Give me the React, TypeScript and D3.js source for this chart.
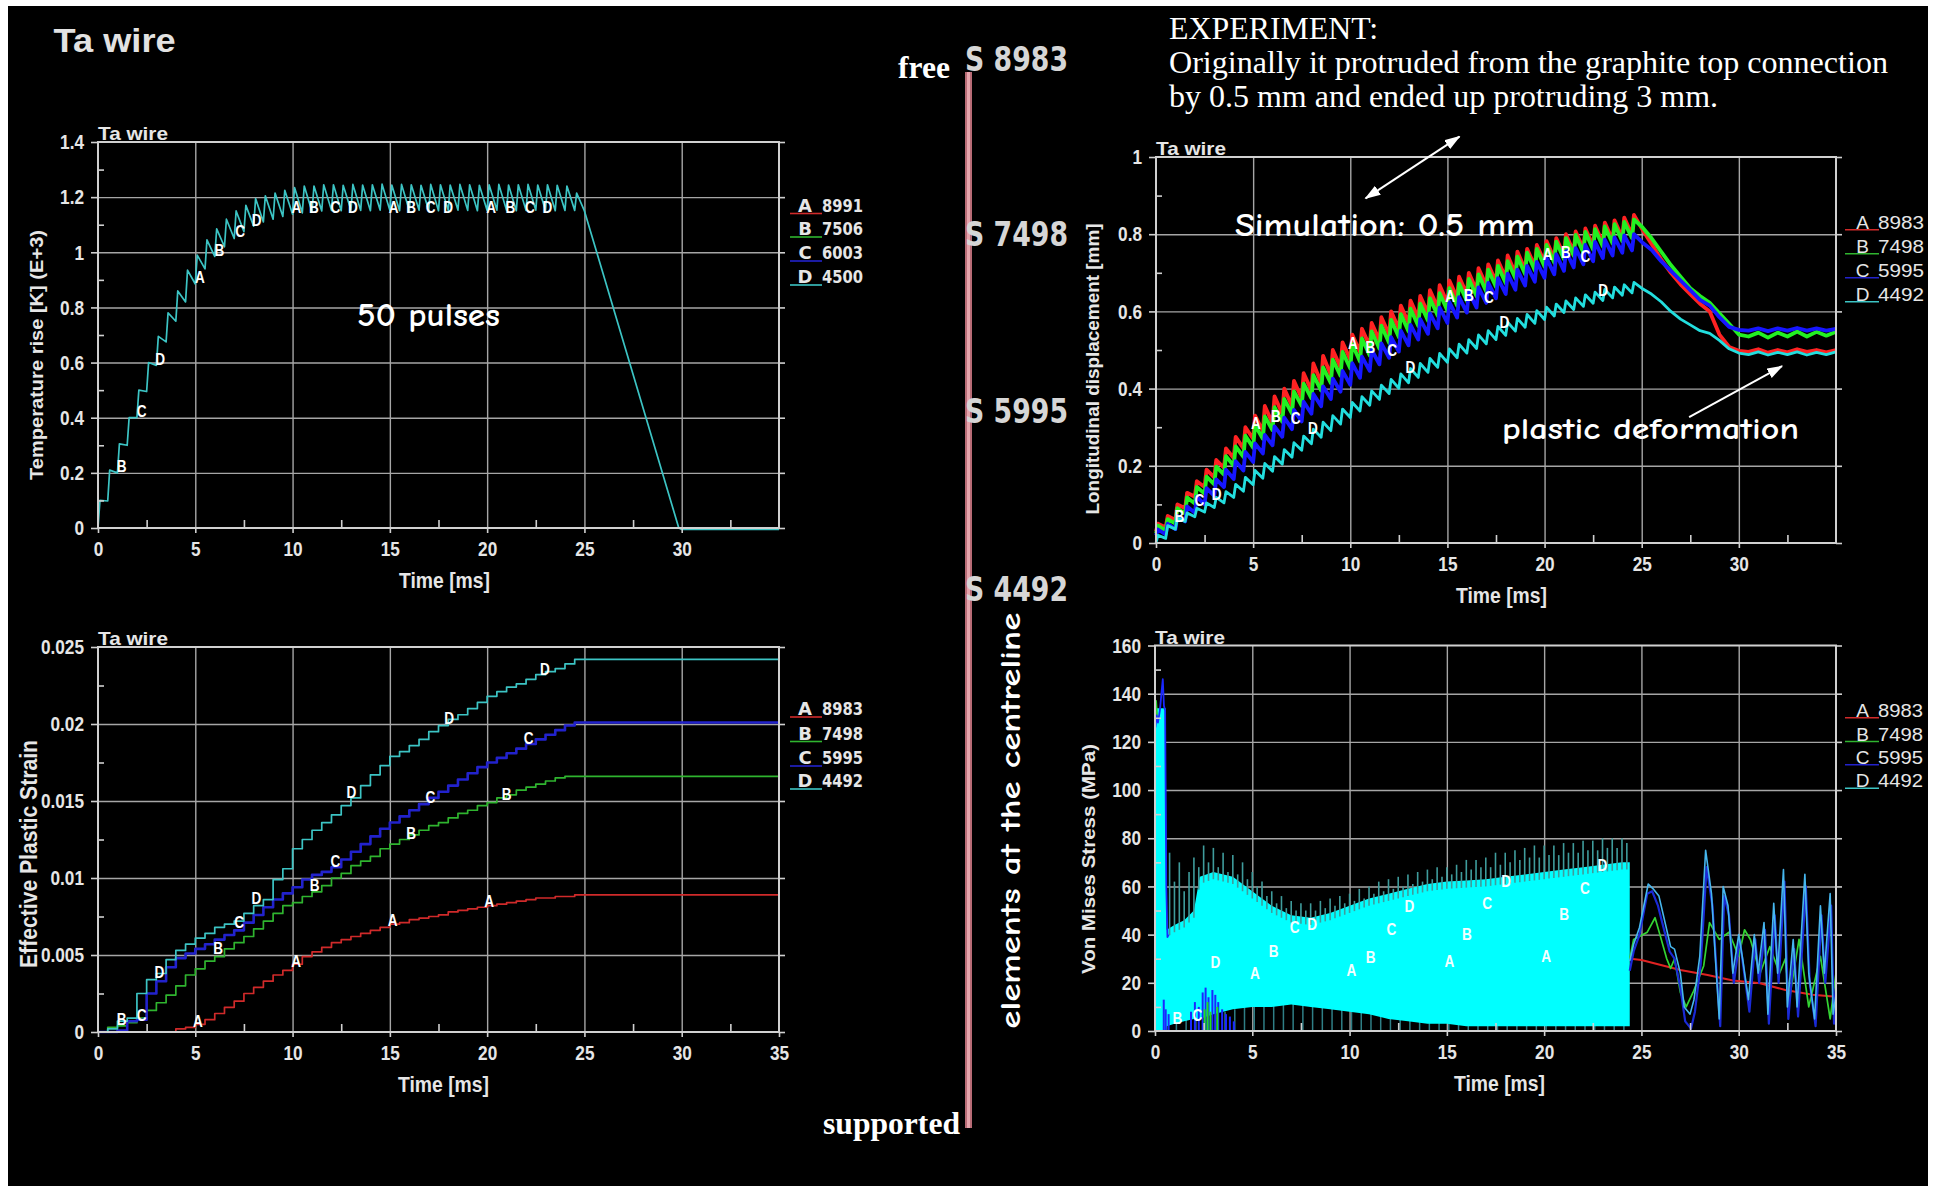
import React, { useEffect, useRef } from "react";
import * as d3 from "d3";

// ---------- shared axis values ----------
const timeMajor = [0, 5, 10, 15, 20, 25, 30, 35];
const timeMinor = [2.5, 7.5, 12.5, 17.5, 22.5, 27.5, 32.5];
const seriesKeys = ["A", "B", "C", "D"];
const tempLegendIds = ["8991", "7506", "6003", "4500"];
const centreLegendIds = ["8983", "7498", "5995", "4492"];
const wireElements = [8983, 7498, 5995, 4492];

// 50 pulses, 0.5 ms apart
const pulseTimes = [0, 0.5, 1, 1.5, 2, 2.5, 3, 3.5, 4, 4.5, 5, 5.5, 6, 6.5, 7, 7.5, 8, 8.5, 9, 9.5,
  10, 10.5, 11, 11.5, 12, 12.5, 13, 13.5, 14, 14.5, 15, 15.5, 16, 16.5, 17, 17.5, 18, 18.5, 19, 19.5,
  20, 20.5, 21, 21.5, 22, 22.5, 23, 23.5, 24, 24.5];

// ---------- temperature rise [K] (E+3) ----------
const tempYTicks = [0, 0.2, 0.4, 0.6, 0.8, 1, 1.2, 1.4];
const tempYMinor = [0.1, 0.3, 0.5, 0.7, 0.9, 1.1, 1.3];
const tempPeaks = [0.1, 0.21, 0.305, 0.4, 0.5, 0.6, 0.695, 0.78, 0.86, 0.935,
  0.99, 1.045, 1.085, 1.12, 1.15, 1.17, 1.195, 1.205, 1.215, 1.225,
  1.235, 1.24, 1.24, 1.245, 1.245, 1.243, 1.246, 1.244, 1.245, 1.247,
  1.244, 1.246, 1.245, 1.243, 1.246, 1.245, 1.244, 1.246, 1.245, 1.243,
  1.245, 1.246, 1.244, 1.245, 1.246, 1.244, 1.245, 1.243, 1.24, 1.215];
const tempTroughs = [0.098, 0.2, 0.3, 0.4, 0.495, 0.59, 0.675, 0.75, 0.82, 0.885,
  0.94, 0.985, 1.02, 1.05, 1.075, 1.095, 1.11, 1.12, 1.13, 1.138,
  1.143, 1.147, 1.15, 1.152, 1.151, 1.153, 1.152, 1.151, 1.153, 1.152,
  1.151, 1.152, 1.153, 1.152, 1.151, 1.152, 1.153, 1.152, 1.151, 1.152,
  1.153, 1.152, 1.151, 1.152, 1.153, 1.152, 1.151, 1.152, 1.152, 1.15];
const tempTailT = [29.85, 30, 35];
const tempTailV = [0, -0.005, -0.005];
const tempLabels = [["B", 1.22, 0.225], ["C", 2.24, 0.425], ["D", 3.19, 0.613], ["A", 5.24, 0.91],
  ["B", 6.24, 1.006], ["C", 7.3, 1.075], ["D", 8.15, 1.117], ["A", 10.2, 1.162], ["B", 11.1, 1.162],
  ["C", 12.2, 1.162], ["D", 13.1, 1.162], ["A", 15.2, 1.162], ["B", 16.1, 1.162], ["C", 17.1, 1.162],
  ["D", 18.0, 1.162], ["A", 20.2, 1.162], ["B", 21.2, 1.162], ["C", 22.2, 1.162], ["D", 23.1, 1.162]];

// ---------- effective plastic strain ----------
const strainYTicks = [0, 0.005, 0.01, 0.015, 0.02, 0.025];
const strainYMinor = [0.0025, 0.0075, 0.0125, 0.0175, 0.0225];
const strainA = [0, 0, 0, 0, 0, 0, 0, 0, 0.0002, 0.0003,
  0.0005, 0.0008, 0.0012, 0.0016, 0.002, 0.0025, 0.0029, 0.0033, 0.0037, 0.004,
  0.0044, 0.0049, 0.0052, 0.0055, 0.0058, 0.006, 0.0062, 0.0064, 0.0066, 0.0068,
  0.007, 0.0071, 0.0073, 0.0074, 0.0075, 0.0076, 0.0078, 0.0079, 0.008, 0.0081,
  0.0082, 0.0083, 0.0084, 0.0085, 0.0086, 0.0087, 0.0087, 0.0088, 0.0088, 0.0089];
const strainB = [0, 0.0003, 0.0004, 0.0006, 0.0009, 0.0014, 0.0019, 0.0024, 0.003, 0.0037,
  0.0041, 0.0046, 0.0049, 0.0054, 0.0058, 0.0062, 0.0067, 0.0072, 0.0077, 0.0082,
  0.0084, 0.0088, 0.0091, 0.0095, 0.01, 0.0103, 0.0108, 0.0111, 0.0114, 0.0119,
  0.0122, 0.0125, 0.0128, 0.0131, 0.0134, 0.0136, 0.0139, 0.0142, 0.0144, 0.0147,
  0.0149, 0.0152, 0.0154, 0.0157, 0.0159, 0.0161, 0.0163, 0.0165, 0.0166, 0.0166];
const strainC = [0, 0, 0.0001, 0.0007, 0.0008, 0.0025, 0.0033, 0.0042, 0.0048, 0.0051,
  0.0054, 0.0057, 0.006, 0.0063, 0.0066, 0.0071, 0.0076, 0.0081, 0.0086, 0.009,
  0.0094, 0.0099, 0.0102, 0.0104, 0.0107, 0.0112, 0.0117, 0.0122, 0.0127, 0.0132,
  0.0136, 0.014, 0.0144, 0.0148, 0.0152, 0.0156, 0.016, 0.0164, 0.0168, 0.0172,
  0.0175, 0.0178, 0.0181, 0.0184, 0.0187, 0.019, 0.0193, 0.0196, 0.0199, 0.0201];
const strainD = [0, 0.0002, 0.0007, 0.0009, 0.0025, 0.0034, 0.0038, 0.0047, 0.0053, 0.0057,
  0.0061, 0.0064, 0.0068, 0.007, 0.0072, 0.0077, 0.0082, 0.0086, 0.0099, 0.0106,
  0.0119, 0.0125, 0.0131, 0.0136, 0.0141, 0.0147, 0.0152, 0.016, 0.0167, 0.0173,
  0.0179, 0.0182, 0.0186, 0.019, 0.0195, 0.0199, 0.0203, 0.0206, 0.021, 0.0214,
  0.0218, 0.0221, 0.0224, 0.0226, 0.0229, 0.0232, 0.0234, 0.0236, 0.0239, 0.0242];
const strainLabels = [["A", 5.14, 0.00073], ["A", 10.19, 0.00457], ["A", 15.14, 0.00727], ["A", 20.1, 0.00852],
  ["B", 1.21, 0.00082], ["B", 6.17, 0.00543], ["B", 11.13, 0.00955], ["B", 16.09, 0.0129], ["B", 21.0, 0.01543],
  ["C", 2.24, 0.0011], ["C", 7.25, 0.00716], ["C", 12.2, 0.01106], ["C", 17.08, 0.01524], ["C", 22.13, 0.0191],
  ["D", 3.15, 0.00385], ["D", 8.14, 0.00868], ["D", 13.03, 0.01556], ["D", 18.05, 0.0204], ["D", 22.97, 0.02357]];

// ---------- longitudinal displacement [mm] ----------
const dispYTicks = [0, 0.2, 0.4, 0.6, 0.8, 1];
const dispYMinor = [0.1, 0.3, 0.5, 0.7, 0.9];
const dispStart = [0.03, 0.025, 0.02, 0];
const dispPeaksA = [0.05, 0.07, 0.1, 0.13, 0.16, 0.19, 0.215, 0.245, 0.275, 0.3,
  0.33, 0.355, 0.38, 0.4, 0.42, 0.44, 0.465, 0.485, 0.5, 0.52,
  0.54, 0.555, 0.57, 0.585, 0.6, 0.615, 0.628, 0.64, 0.655, 0.668,
  0.68, 0.69, 0.7, 0.712, 0.722, 0.732, 0.745, 0.755, 0.762, 0.772,
  0.782, 0.79, 0.8, 0.807, 0.815, 0.822, 0.83, 0.836, 0.843, 0.85];
const dispTroughsA = [0.04, 0.06, 0.09, 0.12, 0.145, 0.17, 0.195, 0.22, 0.245, 0.27,
  0.29, 0.31, 0.335, 0.355, 0.375, 0.395, 0.415, 0.435, 0.455, 0.475,
  0.495, 0.51, 0.525, 0.54, 0.555, 0.57, 0.583, 0.595, 0.61, 0.622,
  0.635, 0.645, 0.655, 0.667, 0.677, 0.687, 0.698, 0.708, 0.717, 0.727,
  0.737, 0.745, 0.754, 0.762, 0.77, 0.777, 0.785, 0.791, 0.798, 0.815];
const dispPeaksB = [0.045, 0.062, 0.09, 0.118, 0.145, 0.172, 0.198, 0.225, 0.25, 0.278,
  0.305, 0.328, 0.352, 0.373, 0.393, 0.413, 0.435, 0.455, 0.475, 0.495,
  0.515, 0.53, 0.548, 0.563, 0.578, 0.593, 0.607, 0.62, 0.634, 0.647,
  0.66, 0.672, 0.684, 0.696, 0.708, 0.718, 0.73, 0.742, 0.752, 0.762,
  0.772, 0.781, 0.79, 0.798, 0.806, 0.813, 0.82, 0.826, 0.832, 0.838];
const dispTroughsB = [0.032, 0.05, 0.076, 0.102, 0.128, 0.152, 0.177, 0.2, 0.223, 0.247,
  0.27, 0.292, 0.314, 0.335, 0.355, 0.375, 0.395, 0.414, 0.433, 0.452,
  0.47, 0.486, 0.503, 0.518, 0.533, 0.548, 0.562, 0.576, 0.589, 0.602,
  0.615, 0.627, 0.639, 0.651, 0.663, 0.673, 0.685, 0.696, 0.706, 0.716,
  0.726, 0.735, 0.744, 0.752, 0.76, 0.768, 0.776, 0.782, 0.79, 0.82];
const dispPeaksC = [0.035, 0.05, 0.07, 0.095, 0.12, 0.142, 0.165, 0.19, 0.212, 0.236,
  0.258, 0.28, 0.302, 0.325, 0.345, 0.366, 0.386, 0.406, 0.426, 0.446,
  0.466, 0.483, 0.5, 0.517, 0.533, 0.55, 0.565, 0.58, 0.595, 0.61,
  0.624, 0.637, 0.65, 0.662, 0.674, 0.686, 0.698, 0.708, 0.718, 0.728,
  0.738, 0.748, 0.756, 0.764, 0.772, 0.78, 0.786, 0.792, 0.797, 0.8];
const dispTroughsC = [0.022, 0.036, 0.056, 0.078, 0.1, 0.122, 0.145, 0.166, 0.188, 0.21,
  0.232, 0.253, 0.275, 0.295, 0.315, 0.335, 0.354, 0.373, 0.392, 0.41,
  0.428, 0.446, 0.463, 0.48, 0.496, 0.512, 0.527, 0.542, 0.556, 0.57,
  0.584, 0.597, 0.61, 0.622, 0.634, 0.645, 0.656, 0.667, 0.677, 0.687,
  0.696, 0.705, 0.714, 0.722, 0.73, 0.738, 0.745, 0.752, 0.758, 0.78];
const dispPeaksD = [0.02, 0.045, 0.065, 0.078, 0.09, 0.104, 0.118, 0.133, 0.152, 0.17,
  0.188, 0.206, 0.224, 0.242, 0.26, 0.277, 0.295, 0.313, 0.33, 0.347,
  0.364, 0.379, 0.394, 0.409, 0.424, 0.438, 0.452, 0.465, 0.478, 0.491,
  0.503, 0.515, 0.527, 0.539, 0.55, 0.561, 0.572, 0.582, 0.592, 0.602,
  0.611, 0.619, 0.627, 0.635, 0.643, 0.65, 0.657, 0.663, 0.669, 0.675];
const dispTroughsD = [0.012, 0.036, 0.056, 0.068, 0.08, 0.092, 0.104, 0.118, 0.134, 0.151,
  0.168, 0.186, 0.204, 0.222, 0.24, 0.257, 0.274, 0.291, 0.308, 0.325,
  0.342, 0.357, 0.372, 0.387, 0.401, 0.415, 0.429, 0.442, 0.455, 0.468,
  0.48, 0.492, 0.504, 0.516, 0.527, 0.538, 0.549, 0.559, 0.569, 0.579,
  0.588, 0.597, 0.605, 0.613, 0.621, 0.628, 0.635, 0.642, 0.648, 0.66];
const dispTailT = [25.5, 26, 26.5, 27, 27.5, 28, 28.5, 29, 29.5, 30, 30.5, 31, 31.5, 32, 32.5, 33, 33.5, 34, 34.5, 35];
const dispTailA = [0.775, 0.735, 0.7, 0.67, 0.645, 0.62, 0.6, 0.54, 0.508, 0.498, 0.495, 0.502, 0.493, 0.5, 0.494, 0.502, 0.495, 0.5, 0.494, 0.5];
const dispTailB = [0.79, 0.755, 0.72, 0.69, 0.66, 0.64, 0.622, 0.595, 0.568, 0.54, 0.535, 0.545, 0.532, 0.545, 0.535, 0.548, 0.535, 0.547, 0.537, 0.547];
const dispTailC = [0.76, 0.73, 0.705, 0.68, 0.655, 0.63, 0.615, 0.585, 0.56, 0.552, 0.55, 0.556, 0.549, 0.556, 0.55, 0.557, 0.55, 0.556, 0.55, 0.555];
const dispTailD = [0.645, 0.625, 0.6, 0.58, 0.565, 0.55, 0.543, 0.525, 0.503, 0.492, 0.488, 0.495, 0.487, 0.494, 0.488, 0.495, 0.487, 0.494, 0.488, 0.495];
const dispLabels = [["B", 1.2, 0.07], ["C", 2.23, 0.111], ["D", 3.12, 0.127], ["A", 5.14, 0.311], ["B", 6.17, 0.329],
  ["C", 7.19, 0.323], ["D", 8.08, 0.297], ["A", 10.14, 0.517], ["B", 11.03, 0.506], ["C", 12.16, 0.499],
  ["D", 13.09, 0.456], ["A", 15.14, 0.64], ["B", 16.1, 0.642], ["C", 17.13, 0.637], ["D", 17.93, 0.573],
  ["A", 20.16, 0.748], ["B", 21.1, 0.754], ["C", 22.1, 0.743], ["D", 23.02, 0.655]];

// ---------- von Mises stress (MPa) ----------
const stressYTicks = [0, 20, 40, 60, 80, 100, 120, 140, 160];
const stressYMinor = [10, 30, 50, 70, 90, 110, 130, 150];
const bandT = [0, 0.05, 0.55, 0.6, 1, 1.5, 2, 2.3, 3, 4, 5, 6, 7, 8, 9, 10, 11, 12, 13, 14, 15, 16, 17, 18, 19, 20, 21, 22, 23, 24, 24.4];
const bandTop = [0, 134, 134, 42, 44, 46, 50, 64, 66, 64, 58, 52, 48, 47, 49, 52, 55, 57, 59, 61, 62, 62.5, 63, 64, 65, 66, 67, 68, 69, 70, 70];
const bandBot = [0, 0, 0, 2, 3, 4, 5, 5, 7, 9, 10, 10, 11, 10, 9, 8, 7, 5, 4, 3, 3, 2, 2, 2, 2, 2, 2, 2, 2, 2, 2];
const spikeTops = [74, 62, 70, 58, 66, 72, 68, 77, 70, 76, 68, 74, 66, 73, 65, 70, 63, 66, 60, 62,
  56, 58, 53, 56, 51, 54, 50, 53, 50, 53, 50, 54, 51, 55, 52, 56, 53, 57, 54, 59,
  55, 60, 57, 62, 58, 63, 59, 64, 60, 65, 61, 66, 62, 67, 63, 68, 64, 68, 65, 69,
  66, 71, 67, 71, 68, 72, 68, 74, 69, 74, 70, 75, 71, 76, 72, 77, 72, 77, 73, 77,
  73, 78, 74, 78, 74, 79, 75, 79, 75, 80, 76, 80, 76, 80, 78];
const lowComb = [4, 5, 5, 6, 6, 7, 8, 9, 10, 11, 11, 12, 12, 12, 13, 12, 12, 11, 11, 10,
  10, 9, 9, 8, 7, 7, 6, 6, 5, 5, 4, 4, 4, 3, 3, 3, 3, 3, 3, 3, 3, 3, 3, 3, 3, 3, 3, 3];
const initBlueT = [0.02, 0.08, 0.15, 0.25, 0.33, 0.4, 0.46, 0.52, 0.58, 0.64, 0.7];
const initBlueV = [126, 131, 128, 133, 140, 146, 135, 133, 60, 39, 40];
const initGreenT = [0.02, 0.06, 0.12];
const initGreenV = [128, 137, 130];
const blueLowT = [0.45, 0.55, 0.7, 1.85, 2.05, 2.25, 2.45, 2.6, 2.75, 2.95, 3.1, 3.25, 3.45, 3.65, 3.85, 4.05];
const blueLowV = [13, 9, 7, 8, 12, 10, 16, 18, 14, 17, 15, 12, 9, 7, 6, 4];
const greenLowT = [2.55, 2.7, 2.85, 3.2];
const greenLowV = [9, 12, 8, 10];
const stressTailAT = [24.45, 25, 26, 27, 28.4, 29.7, 31.1, 32.4, 33.8, 35];
const stressTailAV = [30, 29.5, 27.4, 25.3, 23.2, 21, 19.8, 17, 15, 14.2];
const stressTailBT = [24.4, 24.6, 25.3, 25.7, 25.95, 26.3, 26.5, 26.7, 27.0, 27.3, 27.65, 28.2, 28.5, 29.0,
  29.5, 30.0, 30.3, 30.6, 31.1, 31.6, 32.1, 32.4, 32.6, 33.1, 33.6, 34.2, 34.7, 35];
const stressTailBV = [30, 38, 41, 47, 40, 30, 26, 30, 16, 10, 16, 27, 45, 38, 41, 31, 42, 38, 24, 35, 24, 30, 13, 38, 10, 31, 5, 24];
const stressTailCT = [24.4, 24.6, 24.9, 25.3, 25.55, 25.85, 26.1, 26.45, 26.7, 27.0, 27.25, 27.55, 27.75, 28.05,
  28.35, 28.65, 28.9, 29.05, 29.25, 29.5, 29.75, 30.05, 30.25, 30.55, 30.85, 31.05, 31.35, 31.55, 31.85, 32.05,
  32.35, 32.55, 32.85, 33.05, 33.45, 33.65, 33.95, 34.25, 34.45, 34.75, 34.9, 35];
const stressTailCV = [25, 33, 40, 57, 58, 52, 44, 33, 30, 18, 4, 1, 8, 28, 68, 52, 20, 2, 56, 48,
  20, 38, 26, 8, 38, 20, 42, 3, 48, 20, 62, 5, 34, 6, 60, 20, 2, 48, 20, 52, 3, 18];
const stressTailDT = [24.4, 24.6, 24.9, 25.35, 25.6, 25.9, 26.1, 26.5, 26.7, 27.0, 27.2, 27.5, 27.7, 28.0,
  28.3, 28.6, 28.85, 29.0, 29.2, 29.45, 29.7, 30.0, 30.2, 30.5, 30.8, 31.0, 31.3, 31.5, 31.8, 32.0,
  32.3, 32.5, 32.8, 33.0, 33.4, 33.6, 33.9, 34.2, 34.4, 34.7, 34.85, 35];
const stressTailDV = [29, 36, 43, 61, 59, 56, 49, 35, 34, 24, 10, 7, 13, 31, 75, 57, 24, 5, 60, 52,
  24, 40, 30, 13, 40, 24, 45, 7, 53, 24, 67, 10, 38, 10, 65, 24, 5, 52, 24, 57, 7, 15];
const stressLabels = [["B", 1.15, 5.2], ["C", 2.18, 6.7], ["D", 3.1, 28.4], ["A", 5.13, 23.8], ["B", 6.1, 33],
  ["C", 7.18, 43], ["D", 8.08, 44.2], ["A", 10.1, 25.3], ["B", 11.08, 30.7], ["C", 12.15, 42.4],
  ["D", 13.08, 51.7], ["A", 15.13, 28.8], ["B", 16.03, 40], ["C", 17.07, 53], ["D", 18.05, 62.2],
  ["A", 20.1, 31.2], ["B", 21.03, 48.6], ["C", 22.1, 59.1], ["D", 23.0, 68.8]];

// ---------- layout / style ----------
const W = 1937;
const H = 1186;
const TXT = "#e6e6e6";
const GRID = "#a6a6a6";
const FRAME = "#d0d0d0";
const SQ = 0.82;
const CHART_FONT = "'Liberation Sans', Arial, Helvetica, sans-serif";
const WIDE_FONT = "'DejaVu Sans', Verdana, sans-serif";
const SERIF = "'Liberation Serif', 'Times New Roman', serif";
const HAND = "'Comic Sans MS', 'Comic Neue', 'Noto Sans', sans-serif";
const BOX_TEMP = { x: 98, y: 142, w: 681, h: 386 };
const BOX_STRAIN = { x: 98, y: 647, w: 681, h: 385 };
const BOX_DISP = { x: 1156, y: 157, w: 680, h: 386 };
const BOX_STRESS = { x: 1155, y: 645.5, w: 681, h: 385.5 };
const dull = { A: "#d02a2a", B: "#2fb42f", C: "#2222cc", D: "#3cc4c4" };
const bright = { A: "#ff2222", B: "#22f022", C: "#1616ff", D: "#22dede" };

function squeeze(sel: any, sx: number) {
  sel.each(function (this: any) {
    const t = d3.select(this);
    const xa = t.attr("x");
    if (xa !== null) t.attr("x", +xa / sx);
    t.attr("transform", `scale(${sx},1)`);
  });
}

function fitText(parent: any, x: number, y: number, str: string, size: number, len: number, o: any = {}) {
  return parent.append("text")
    .attr("x", x).attr("y", y)
    .attr("font-family", o.family || CHART_FONT)
    .attr("font-weight", o.weight || "bold")
    .attr("font-size", size)
    .attr("fill", o.fill || TXT)
    .attr("textLength", len)
    .attr("lengthAdjust", "spacingAndGlyphs")
    .text(str);
}

function frame(root: any, box: any, ymax: number, yTicks: number[]) {
  const g = root.append("g").attr("transform", `translate(${box.x},${box.y})`);
  const x = d3.scaleLinear().domain([0, 35]).range([0, box.w]);
  const y = d3.scaleLinear().domain([0, ymax]).range([box.h, 0]);
  const grid = g.append("g");
  grid.append("g").attr("transform", `translate(0,${box.h})`)
    .call(d3.axisBottom(x).tickValues(timeMajor.slice(1, -1)).tickSize(-box.h).tickFormat(() => ""));
  grid.append("g")
    .call(d3.axisLeft(y).tickValues(yTicks.slice(1, -1)).tickSize(-box.w).tickFormat(() => ""));
  grid.selectAll(".domain").remove();
  grid.selectAll("line").attr("stroke", GRID).attr("stroke-width", 1.4);
  const plot = g.append("g");
  return { g, plot, x, y };
}

function axes(p: any, box: any, yTicks: number[], yMinor: number[], xLabelled: number[]) {
  const { g, x, y } = p;
  g.append("rect").attr("width", box.w).attr("height", box.h)
    .attr("fill", "none").attr("stroke", FRAME).attr("stroke-width", 2);
  const style = (s: any) => {
    s.select(".domain").remove();
    s.attr("color", TXT).attr("font-family", CHART_FONT).attr("font-size", 21).attr("font-weight", "bold");
    s.selectAll("line").attr("stroke", FRAME).attr("stroke-width", 1.6);
    squeeze(s.selectAll("text"), SQ);
  };
  g.append("g").attr("transform", `translate(0,${box.h})`)
    .call(d3.axisBottom(x).tickValues(xLabelled).tickSize(5).tickPadding(8).tickFormat(d3.format("d"))).call(style);
  g.append("g").attr("transform", `translate(0,${box.h})`)
    .call(d3.axisBottom(x).tickValues(timeMinor).tickSize(-8).tickFormat(() => "")).call(style);
  g.append("g")
    .call(d3.axisLeft(y).tickValues(yTicks).tickSize(7).tickPadding(7).tickFormat(d3.format("~g"))).call(style);
  g.append("g")
    .call(d3.axisLeft(y).tickValues(yMinor).tickSize(-6).tickFormat(() => "")).call(style);
  g.append("g").attr("transform", `translate(${box.w},0)`)
    .call(d3.axisRight(y).tickValues(yTicks).tickSize(6).tickFormat(() => "")).call(style);
}

function titles(p: any, box: any, timeX: number, yTitle: string, yBase: number, yMid: number, ySize: number, yLen: number) {
  fitText(p.g, 0, -2, "Ta wire", 19, 70);
  fitText(p.g, timeX, box.h + 60, "Time [ms]", 22, 91);
  const r = p.g.append("g").attr("transform", `translate(${yBase},${yMid}) rotate(-90)`);
  fitText(r, -yLen / 2, 0, yTitle, ySize, yLen);
}

function pointLabels(p: any, labels: any[], fill = "#ffffff") {
  labels.forEach(([k, t, v]) => {
    p.plot.append("text")
      .attr("transform", `translate(${p.x(t)},${p.y(v)}) scale(0.85,1)`)
      .attr("text-anchor", "middle").attr("dy", "0.36em")
      .attr("font-family", CHART_FONT).attr("font-weight", "bold").attr("font-size", 16)
      .attr("fill", fill).text(k);
  });
}

function sawPoints(times: number[], peaks: number[], troughs: number[], start: number, rise: number, endT: number) {
  const pts: number[][] = [[times[0], start]];
  times.forEach((t, i) => {
    pts.push([t + rise, peaks[i]]);
    pts.push([i < times.length - 1 ? times[i + 1] : endT, troughs[i]]);
  });
  return pts;
}

function pathOf(p: any, pts: number[][], color: string, width: number, curve: any = d3.curveLinear) {
  const line = d3.line().x((d: any) => p.x(d[0])).y((d: any) => p.y(d[1])).curve(curve);
  return p.plot.append("path").attr("d", line(pts as any)).attr("fill", "none")
    .attr("stroke", color).attr("stroke-width", width).attr("stroke-linejoin", "round");
}

function zipPts(ts: number[], vs: number[]) {
  return ts.map((t, i) => [t, vs[i]]);
}

function legend(root: any, ids: string[], colors: any, o: any) {
  ids.forEach((id, i) => {
    const key = seriesKeys[i];
    const base = o.rows[i];
    root.append("line").attr("x1", o.lx1).attr("x2", o.lx2).attr("y1", base + o.lineDy).attr("y2", base + o.lineDy)
      .attr("stroke", colors[key]).attr("stroke-width", 1.6);
    root.append("text").attr("x", o.keyX).attr("y", base).attr("text-anchor", "middle")
      .attr("font-family", o.family).attr("font-weight", o.weight).attr("font-size", o.size)
      .attr("fill", TXT).text(key);
    fitText(root, o.idX, base, id, o.size, o.idLen, { family: o.family, weight: o.weight });
  });
}

function drawTemperature(svg: any) {
  const p = frame(svg, BOX_TEMP, 1.4, tempYTicks);
  const pts = sawPoints(pulseTimes, tempPeaks, tempTroughs, 0, 0.1, 25).concat(zipPts(tempTailT, tempTailV));
  pathOf(p, pts, dull.D, 1.7);
  pointLabels(p, tempLabels);
  axes(p, BOX_TEMP, tempYTicks, tempYMinor, timeMajor.slice(0, -1));
  titles(p, BOX_TEMP, 301, "Temperature rise [K] (E+3)", -55, 213, 19, 250);
  legend(svg, tempLegendIds, dull, {
    rows: [211.5, 235, 259, 283], lineDy: 2, lx1: 790, lx2: 822, keyX: 805, idX: 822, idLen: 41,
    family: WIDE_FONT, weight: "bold", size: 18,
  });
}

function drawStrain(svg: any) {
  const p = frame(svg, BOX_STRAIN, 0.025, strainYTicks);
  const series = [strainA, strainB, strainC, strainD];
  series.forEach((vals, i) => {
    const key = seriesKeys[i];
    const pts = zipPts(pulseTimes, vals).concat([[35, vals[vals.length - 1]]]);
    pathOf(p, pts, dull[key], key === "C" ? 2.6 : 1.7, d3.curveStepAfter);
  });
  pointLabels(p, strainLabels);
  axes(p, BOX_STRAIN, strainYTicks, strainYMinor, timeMajor);
  titles(p, BOX_STRAIN, 300, "Effective Plastic Strain", -61.5, 207, 24, 228);
  legend(svg, centreLegendIds, dull, {
    rows: [715, 739.5, 764, 787], lineDy: 2, lx1: 790, lx2: 822, keyX: 805, idX: 822, idLen: 41,
    family: WIDE_FONT, weight: "bold", size: 18,
  });
}

function drawDisplacement(svg: any) {
  const p = frame(svg, BOX_DISP, 1, dispYTicks);
  const peaks = [dispPeaksA, dispPeaksB, dispPeaksC, dispPeaksD];
  const troughs = [dispTroughsA, dispTroughsB, dispTroughsC, dispTroughsD];
  const tails = [dispTailA, dispTailB, dispTailC, dispTailD];
  seriesKeys.forEach((key, i) => {
    const pts = sawPoints(pulseTimes, peaks[i], troughs[i], dispStart[i], 0.1, 25)
      .concat(zipPts(dispTailT, tails[i]));
    pathOf(p, pts, bright[key], key === "D" ? 2.8 : 3.8);
  });
  pointLabels(p, dispLabels);
  axes(p, BOX_DISP, dispYTicks, dispYMinor, timeMajor.slice(0, -1));
  titles(p, BOX_DISP, 300, "Longitudinal displacement [mm]", -57, 212, 19, 291);
  legend(svg, centreLegendIds, dull, {
    rows: [228.7, 252.7, 276.7, 300.7], lineDy: 1, lx1: 1845, lx2: 1879, keyX: 1862.5, idX: 1878, idLen: 46,
    family: CHART_FONT, weight: "normal", size: 19,
  });

  // arrows, anchored in the displacement panel's data space
  const arrows = svg.append("g").attr("transform", `translate(${BOX_DISP.x},${BOX_DISP.y})`);
  arrows.append("line")
    .attr("x1", p.x(10.79)).attr("y1", p.y(0.893)).attr("x2", p.x(15.62)).attr("y2", p.y(1.053))
    .attr("stroke", "#fff").attr("stroke-width", 2)
    .attr("marker-start", "url(#arrowHead)").attr("marker-end", "url(#arrowHead)");
  arrows.append("line")
    .attr("x1", p.x(27.44)).attr("y1", p.y(0.326)).attr("x2", p.x(32.22)).attr("y2", p.y(0.458))
    .attr("stroke", "#fff").attr("stroke-width", 2)
    .attr("marker-end", "url(#arrowHead)");
}

function drawStress(svg: any) {
  const p = frame(svg, BOX_STRESS, 160, stressYTicks);
  const topAt = d3.scaleLinear().domain(bandT).range(bandTop);
  const combT = d3.range(0.6, 24.4, 0.5);
  combT.forEach((t, i) => {
    p.plot.append("line").attr("x1", p.x(t)).attr("x2", p.x(t)).attr("y1", p.y(0)).attr("y2", p.y(lowComb[i]))
      .attr("stroke", "#2f7f86").attr("stroke-width", 1.5);
  });
  const area = d3.area().x((d: any) => p.x(d[0])).y0((d: any) => p.y(d[2])).y1((d: any) => p.y(d[1]));
  p.plot.append("path").attr("d", area(bandT.map((t, i) => [t, bandTop[i], bandBot[i]]) as any))
    .attr("fill", "#00ffff");
  const spikeT = d3.range(0.75, 24.3, 0.25);
  spikeT.forEach((t, i) => {
    p.plot.append("line").attr("x1", p.x(t)).attr("x2", p.x(t))
      .attr("y1", p.y(topAt(t) - 3)).attr("y2", p.y(spikeTops[i]))
      .attr("stroke", "#3f9c9c").attr("stroke-width", 1.6);
  });
  blueLowT.forEach((t, i) => {
    p.plot.append("line").attr("x1", p.x(t)).attr("x2", p.x(t)).attr("y1", p.y(0)).attr("y2", p.y(blueLowV[i]))
      .attr("stroke", "#1a28ff").attr("stroke-width", 2);
  });
  greenLowT.forEach((t, i) => {
    p.plot.append("line").attr("x1", p.x(t)).attr("x2", p.x(t)).attr("y1", p.y(0)).attr("y2", p.y(greenLowV[i]))
      .attr("stroke", "#22dd22").attr("stroke-width", 2);
  });
  pathOf(p, zipPts(initGreenT, initGreenV), "#30d030", 1.6);
  pathOf(p, zipPts(initBlueT, initBlueV), "#1a28ff", 1.8);
  pointLabels(p, stressLabels, "#f4ffff");
  pathOf(p, zipPts(stressTailAT, stressTailAV), "#e02222", 2);
  pathOf(p, zipPts(stressTailBT, stressTailBV), "#33d433", 1.7);
  pathOf(p, zipPts(stressTailCT, stressTailCV), "#1a2ad6", 2.2);
  pathOf(p, zipPts(stressTailDT, stressTailDV), "#46b6ee", 1.6);
  axes(p, BOX_STRESS, stressYTicks, stressYMinor, timeMajor);
  titles(p, BOX_STRESS, 299, "Von Mises Stress (MPa)", -60, 213.5, 18, 230);
  legend(svg, centreLegendIds, dull, {
    rows: [716.7, 740.5, 763.7, 787.2], lineDy: 1, lx1: 1845, lx2: 1879, keyX: 1862.5, idX: 1878, idLen: 45,
    family: CHART_FONT, weight: "normal", size: 19,
  });
}

function drawCentre(svg: any) {
  const wire = d3.scaleLinear().domain([wireElements[0], wireElements[3]]).range([58.6, 588.5]);
  svg.append("line").attr("x1", 968.5).attr("x2", 968.5).attr("y1", 72).attr("y2", 1128)
    .attr("stroke", "#b86c76").attr("stroke-width", 7);
  svg.append("line").attr("x1", 968.5).attr("x2", 968.5).attr("y1", 72).attr("y2", 1128)
    .attr("stroke", "#e6a4ac").attr("stroke-width", 3);
  wireElements.forEach((id) => {
    fitText(svg, 965, wire(id) + 12, `S ${id}`, 34, 103, { family: WIDE_FONT, fill: "#d6d6d6" });
  });
  fitText(svg, 898, 78, "free", 31, 52, { family: SERIF, fill: "#ffffff" });
  fitText(svg, 823, 1134, "supported", 31, 137, { family: SERIF, fill: "#ffffff" });
  const r = svg.append("g").attr("transform", "translate(1020,820.7) rotate(-90)");
  fitText(r, -208, 0, "elements at the centreline", 29, 416, { family: HAND, fill: "#ffffff" });
}

function drawNotes(svg: any) {
  const serif = { family: SERIF, weight: "normal", fill: "#ffffff" };
  fitText(svg, 1169, 39, "EXPERIMENT:", 32, 209, serif);
  fitText(svg, 1169, 73, "Originally it protruded from the graphite top connection", 32, 719, serif);
  fitText(svg, 1169, 107, "by 0.5 mm and ended up protruding 3 mm.", 32, 549, serif);
  const hand = { family: HAND, fill: "#ffffff" };
  fitText(svg, 357, 326, "50 pulses", 32, 143, hand);
  fitText(svg, 1235, 236, "Simulation: 0.5 mm", 32, 300, hand);
  fitText(svg, 1502, 439, "plastic deformation", 31, 297, hand);
  fitText(svg, 53.6, 52.4, "Ta wire", 33, 122, { fill: "#e2e2e2" });
}

function draw(svg: any) {
  svg.append("rect").attr("width", W).attr("height", H).attr("fill", "#ffffff");
  svg.append("rect").attr("x", 8).attr("y", 6).attr("width", 1920).attr("height", H - 6).attr("fill", "#000000");
  svg.append("defs").append("marker")
    .attr("id", "arrowHead").attr("viewBox", "0 0 12 8").attr("refX", 11).attr("refY", 4)
    .attr("markerWidth", 8).attr("markerHeight", 5.4).attr("orient", "auto-start-reverse")
    .append("path").attr("d", "M0,0 L12,4 L0,8 z").attr("fill", "#ffffff");
  drawTemperature(svg);
  drawStrain(svg);
  drawDisplacement(svg);
  drawStress(svg);
  drawCentre(svg);
  drawNotes(svg);
}

export default function App() {
  const ref = useRef<SVGSVGElement>(null);
  useEffect(() => {
    const svg = d3.select(ref.current);
    svg.selectAll("*").remove();
    draw(svg);
  }, []);
  return (
    <svg ref={ref} width={W} height={H}
      style={{ position: "absolute", left: 0, top: 0, display: "block" }} />
  );
}
